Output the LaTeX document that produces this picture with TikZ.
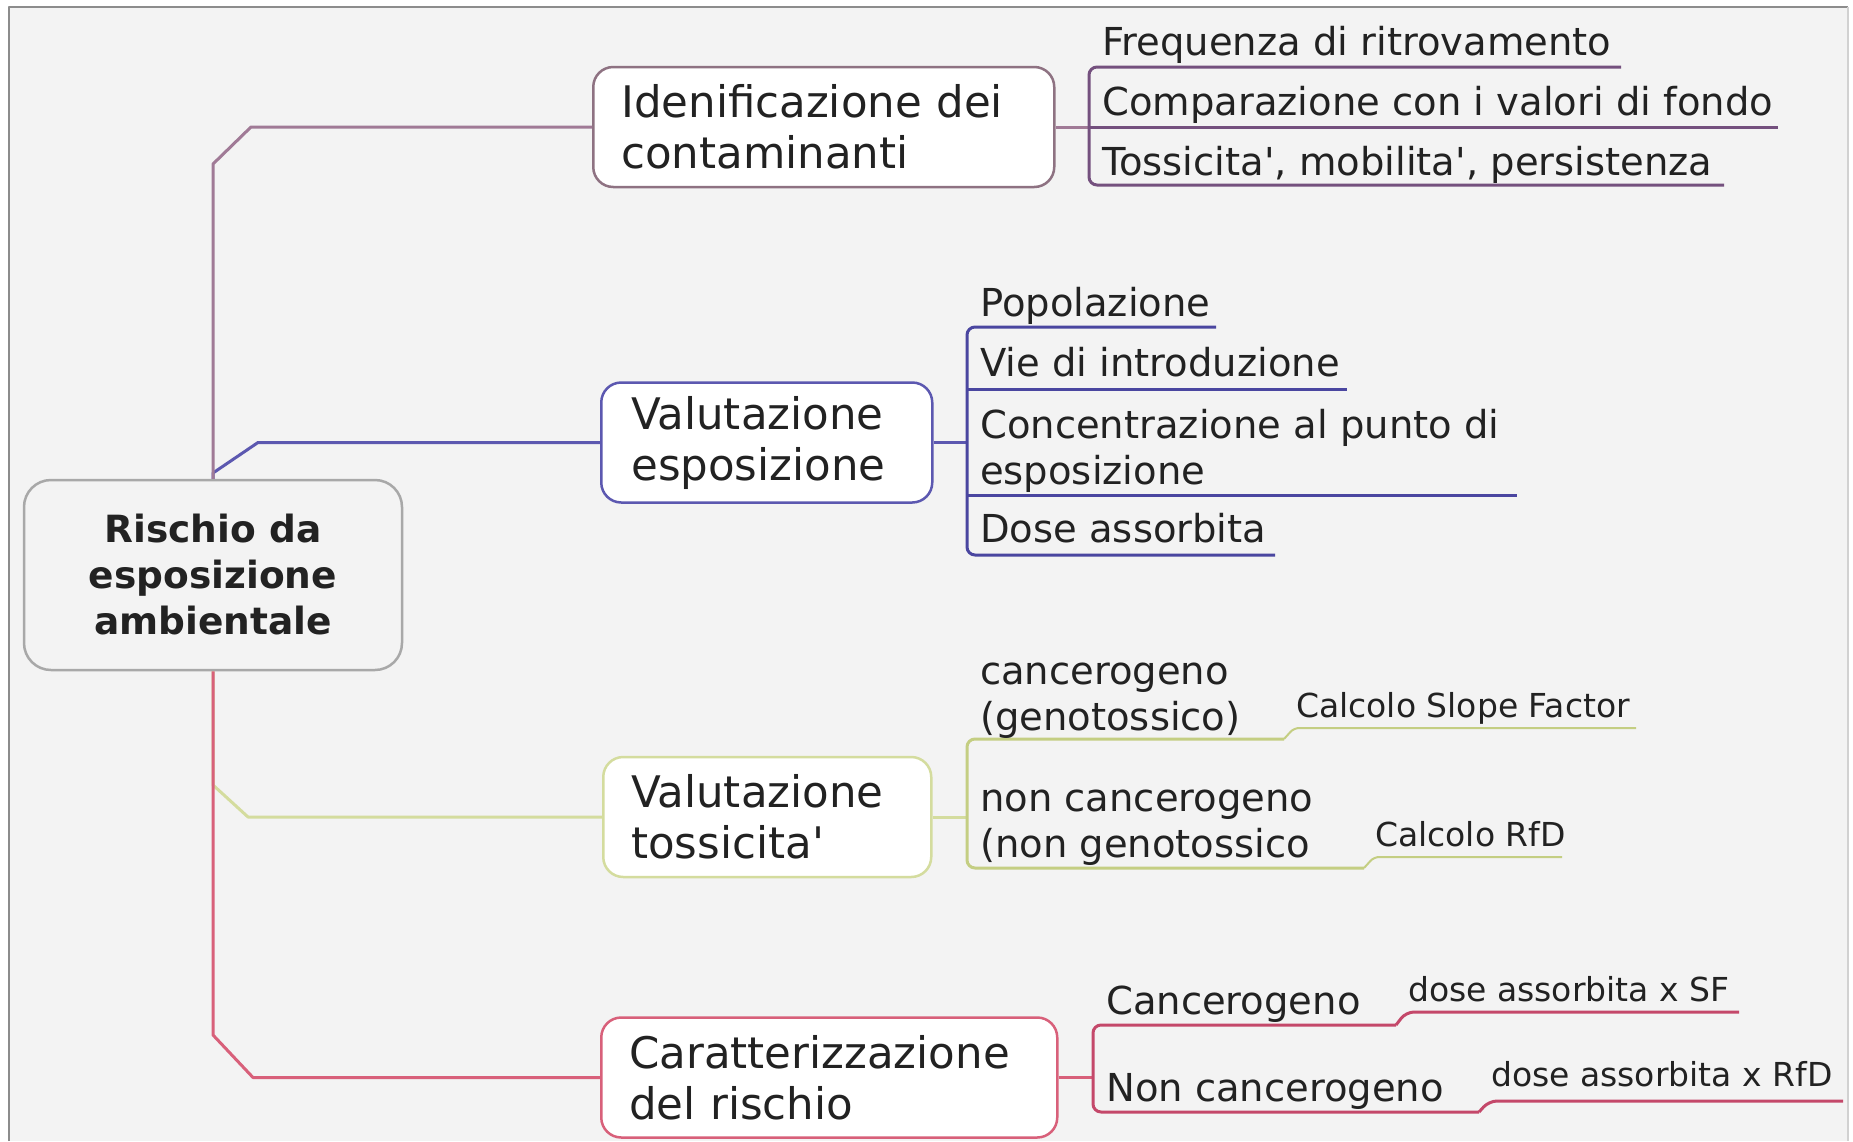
\documentclass[tikz,border=0pt]{standalone}
\usepackage{fontspec}
\newfontfamily\dv{DejaVu Sans}
\definecolor{bg}{HTML}{F3F3F3}
\definecolor{frame}{HTML}{8C8C8C}
\definecolor{txt}{HTML}{222222}
\definecolor{c1}{HTML}{A07A96}
\definecolor{u1}{HTML}{74507E}
\definecolor{b1}{HTML}{8E7282}
\definecolor{c2}{HTML}{5C58B0}
\definecolor{u2}{HTML}{4A46A0}
\definecolor{c3}{HTML}{D4DC9E}
\definecolor{u3}{HTML}{C4CE82}
\definecolor{c4}{HTML}{D8607A}
\definecolor{u4}{HTML}{C4486A}
\definecolor{rootline}{HTML}{A8A8A8}
\begin{document}
\begin{tikzpicture}[x=1pt,y=-1pt,line join=round,
  mainbox/.style={draw,line width=2.5pt,rounded corners=20pt,fill=white,align=left,
    inner ysep=0pt,font=\dv\fontsize{43.5}{51}\selectfont,text=txt,minimum height=120pt,anchor=west},
  item/.style={anchor=base west,inner sep=0pt,align=left,font=\dv\fontsize{38.5}{46}\selectfont,text=txt},
  small/.style={anchor=base west,inner sep=0pt,font=\dv\fontsize{33}{40}\selectfont,text=txt},
  conn/.style={line width=3pt},
  uline/.style={line width=3pt,rounded corners=8pt},
  thin/.style={line width=2pt,rounded corners=5pt}]
\useasboundingbox (0,0) rectangle (1853,1141);
\fill[white] (0,0) rectangle (1853,1141);
\fill[bg] (9,7) rectangle (1848,1141);
\draw[frame,line width=2.5pt] (9,1141) -- (9,7) -- (1848,7);
\draw[frame!40,line width=1.5pt] (1848,7) -- (1848,1141);

% root
\node[draw=rootline,fill=bg,line width=2.5pt,rounded corners=27pt,minimum width=378pt,
  minimum height=190pt,align=center,text=txt,font=\dv\bfseries\fontsize{37.5}{46}\selectfont]
  (root) at (213,575) {Rischio da\\esposizione\\ambientale};

% main boxes
\node[mainbox,draw=b1,inner xsep=28pt,text width=405pt] (B1) at (592,127) {Idenificazione dei\\contaminanti};
\node[mainbox,draw=c2,inner xsep=30pt,text width=271pt] (B2) at (600,442.5) {Valutazione\\esposizione};
\node[mainbox,draw=c3,inner xsep=28pt,text width=272pt] (B3) at (602,817) {Valutazione\\tossicita'};
\node[mainbox,draw=c4,inner xsep=28pt,text width=400pt] (B4) at (600,1077.5) {Caratterizzazione\\del rischio};

% connectors root -> boxes
\draw[conn,c2] (root.north) -- (213,473) -- (258,442.5) -- (B2.west);
\draw[conn,c3] (root.south) -- (213,785) -- (248,817) -- (B3.west);
\draw[conn,c1] (root.north) -- (213,164) -- (251,127) -- (B1.west);
\draw[conn,c4] (root.south) -- (213,1035) -- (253,1077.5) -- (B4.west);

% group 1
\coordinate (k1) at (1089,127);
\draw[conn,c1] (B1.east) -- (k1);
\draw[uline,u1] (1621,67) -| (k1) |- (1724,185);
\draw[uline,u1] (k1) -- (1778,127);
\node[item] (i11) at (1102,55) {Frequenza di ritrovamento};
\node[item] (i12) at (1102,115) {Comparazione con i valori di fondo};
\node[item] (i13) at (1102,175) {Tossicita', mobilita', persistenza};

% group 2
\coordinate (k2) at (967,442.5);
\draw[conn,c2] (B2.east) -- (k2);
\draw[uline,u2] (1216,327) -| (k2) |- (1275,555);
\draw[uline,u2] (967,389) -- (1347,389);
\draw[uline,u2] (967,495) -- (1517,495);
\node[item] (i21) at (980,316) {Popolazione};
\node[item] (i22) at (980,376) {Vie di introduzione};
\node[item] (i23) at (980,484) {Concentrazione al punto di\\esposizione};
\node[item] (i24) at (980,542) {Dose assorbita};

% group 3
\coordinate (k3) at (967,817);
\draw[conn,c3] (B3.east) -- (k3);
\draw[uline,u3] (1284,739) -| (k3) |- (1364,868);
\draw[thin,u3] (1284,739) -- (1294,728) -- (1636,728);
\draw[thin,u3] (1364,868) -- (1374,857) -- (1562,857);
\node[item] (i31) at (980,730) {cancerogeno\\(genotossico)};
\node[item] (i32) at (980,857) {non cancerogeno\\(non genotossico};
\node[small] (s31) at (1296,717) {Calcolo Slope Factor};
\node[small] (s32) at (1375,846) {Calcolo RfD};

% group 4
\coordinate (k4) at (1093,1077.5);
\draw[conn,c4] (B4.east) -- (k4);
\draw[uline,u4] (1396,1025) -| (k4) |- (1479,1112);
\draw[uline,u4] (1396,1025) -- (1406,1012) -- (1739,1012);
\draw[uline,u4] (1479,1112) -- (1489,1101) -- (1843,1101);
\node[item] (i41) at (1106,1014) {Cancerogeno};
\node[item] (i42) at (1106,1101) {Non cancerogeno};
\node[small] (s41) at (1408,1001) {dose assorbita x SF};
\node[small] (s42) at (1491,1086) {dose assorbita x RfD};
\end{tikzpicture}
\end{document}
